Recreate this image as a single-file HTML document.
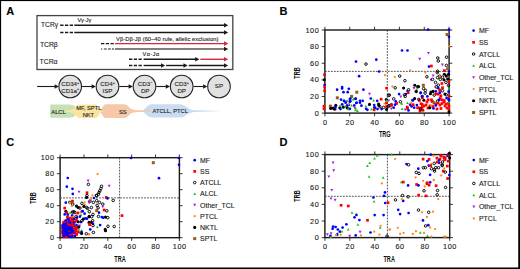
<!DOCTYPE html>
<html><head><meta charset="utf-8"><style>
html,body{margin:0;padding:0;background:#fff;}
body{width:520px;height:269px;overflow:hidden;}
svg{display:block;font-family:"Liberation Sans", sans-serif;}
text{stroke:#222;stroke-width:0.12px;}
.h{stroke-width:0.25px;}
.n{stroke-width:0;}
</style></head><body>
<svg width="520" height="269" viewBox="0 0 520 269">
<rect x="0" y="0" width="520" height="269" fill="#fff"/>
<text x="6.3" y="15" font-size="11" font-weight="bold" fill="#000">A</text>
<text x="279.6" y="15" font-size="11" font-weight="bold" fill="#000">B</text>
<text x="6.3" y="146.3" font-size="11" font-weight="bold" fill="#000">C</text>
<text x="279.6" y="146.3" font-size="11" font-weight="bold" fill="#000">D</text>
<rect x="37" y="15.6" width="195.8" height="53.9" fill="none" stroke="#444" stroke-width="1.3"/>
<line x1="60.2" y1="25.3" x2="73" y2="25.3" stroke="#1a1a1a" stroke-width="1.4" stroke-dasharray="3.3 1.45"/>
<line x1="74.3" y1="25.3" x2="225" y2="25.3" stroke="#1a1a1a" stroke-width="1.4"/>
<path d="M228.2 25.3 L224.0 23.0 L224.0 27.6 Z" fill="#1a1a1a"/>
<line x1="60.2" y1="32.5" x2="73" y2="32.5" stroke="#1a1a1a" stroke-width="1.4" stroke-dasharray="3.3 1.45"/>
<line x1="74.3" y1="32.5" x2="225" y2="32.5" stroke="#1a1a1a" stroke-width="1.4"/>
<path d="M228.2 32.5 L224.0 30.2 L224.0 34.8 Z" fill="#1a1a1a"/>
<line x1="101" y1="43.6" x2="114" y2="43.6" stroke="#1a1a1a" stroke-width="1.4" stroke-dasharray="3.3 1.45"/>
<line x1="115.1" y1="43.6" x2="225" y2="43.6" stroke="#d7263d" stroke-width="1.4"/>
<path d="M228.2 43.6 L224.0 41.300000000000004 L224.0 45.9 Z" fill="#d7263d"/>
<line x1="100.9" y1="49.0" x2="102.2" y2="49.0" stroke="#555" stroke-width="1.3"/>
<line x1="103.8" y1="49.0" x2="106.7" y2="49.0" stroke="#555" stroke-width="1.3"/>
<line x1="108" y1="49.0" x2="110.9" y2="49.0" stroke="#555" stroke-width="1.3"/>
<line x1="112" y1="49.0" x2="113.8" y2="49.0" stroke="#555" stroke-width="1.3"/>
<line x1="114.9" y1="49.0" x2="225" y2="49.0" stroke="#555" stroke-width="1.3"/>
<path d="M228.2 49.0 L224.0 46.7 L224.0 51.3 Z" fill="#1a1a1a"/>
<line x1="129" y1="59.3" x2="142" y2="59.3" stroke="#1a1a1a" stroke-width="1.4" stroke-dasharray="3.3 1.45"/>
<line x1="143.6" y1="59.3" x2="196" y2="59.3" stroke="#1a1a1a" stroke-width="1.4"/>
<path d="M199.4 59.3 L195.20000000000002 57.0 L195.20000000000002 61.599999999999994 Z" fill="#1a1a1a"/>
<line x1="200.3" y1="59.3" x2="225" y2="59.3" stroke="#d7263d" stroke-width="1.4"/>
<path d="M228.2 59.3 L224.0 57.0 L224.0 61.599999999999994 Z" fill="#d7263d"/>
<line x1="129" y1="65.5" x2="142" y2="65.5" stroke="#1a1a1a" stroke-width="1.4" stroke-dasharray="3.3 1.45"/>
<line x1="143.6" y1="65.5" x2="162" y2="65.5" stroke="#1a1a1a" stroke-width="1.4"/>
<path d="M165.2 65.5 L161.0 63.2 L161.0 67.8 Z" fill="#1a1a1a"/>
<line x1="166.1" y1="65.5" x2="184" y2="65.5" stroke="#1a1a1a" stroke-width="1.4"/>
<path d="M187.7 65.5 L183.5 63.2 L183.5 67.8 Z" fill="#1a1a1a"/>
<line x1="188.8" y1="65.5" x2="225" y2="65.5" stroke="#1a1a1a" stroke-width="1.4"/>
<path d="M228.2 65.5 L224.0 63.2 L224.0 67.8 Z" fill="#1a1a1a"/>
<text x="41.1" y="27.3" font-size="6.6" fill="#222">TCRγ</text>
<text x="39.9" y="46.9" font-size="6.8" fill="#222">TCRβ</text>
<text x="39.6" y="63.5" font-size="6.8" fill="#222">TCRα</text>
<text x="77.4" y="21.8" font-size="5.6" fill="#222">Vγ-Jγ</text>
<text x="116.0" y="40.5" font-size="5.75" fill="#222" letter-spacing="0.05">Vβ-Dβ-Jβ (60–40 rule, allelic exclusion)</text>
<text x="142.5" y="56.0" font-size="5.6" fill="#222" letter-spacing="0.5">Vα-Jα</text>
<line x1="37.1" y1="86.5" x2="55" y2="86.5" stroke="#1a1a1a" stroke-width="1.1"/>
<path d="M58.8 86.5 L54.599999999999994 84.2 L54.599999999999994 88.8 Z" fill="#1a1a1a"/>
<line x1="82.0" y1="86.5" x2="92.3" y2="86.5" stroke="#1a1a1a" stroke-width="1.1"/>
<path d="M95.8 86.5 L91.6 84.2 L91.6 88.8 Z" fill="#1a1a1a"/>
<line x1="119.3" y1="86.5" x2="129.29999999999998" y2="86.5" stroke="#1a1a1a" stroke-width="1.1"/>
<path d="M132.79999999999998 86.5 L128.6 84.2 L128.6 88.8 Z" fill="#1a1a1a"/>
<line x1="156.3" y1="86.5" x2="166.49999999999997" y2="86.5" stroke="#1a1a1a" stroke-width="1.1"/>
<path d="M169.99999999999997 86.5 L165.79999999999998 84.2 L165.79999999999998 88.8 Z" fill="#1a1a1a"/>
<line x1="193.5" y1="86.5" x2="203.79999999999998" y2="86.5" stroke="#1a1a1a" stroke-width="1.1"/>
<path d="M207.29999999999998 86.5 L203.1 84.2 L203.1 88.8 Z" fill="#1a1a1a"/>
<circle cx="70.2" cy="86.5" r="11.3" fill="#e1e1e1" stroke="#222" stroke-width="1.1"/>
<circle cx="107.5" cy="86.5" r="11.3" fill="#e1e1e1" stroke="#222" stroke-width="1.1"/>
<circle cx="144.5" cy="86.5" r="11.3" fill="#e1e1e1" stroke="#222" stroke-width="1.1"/>
<circle cx="181.7" cy="86.5" r="11.3" fill="#e1e1e1" stroke="#222" stroke-width="1.1"/>
<circle cx="219.0" cy="86.5" r="11.3" fill="#e1e1e1" stroke="#222" stroke-width="1.1"/>
<text x="70.2" y="85.8" font-size="6.2" fill="#2a2a2a" text-anchor="middle">CD34<tspan font-size="3.6" dy="-2.2">+</tspan></text>
<text x="70.2" y="92.6" font-size="6.2" fill="#2a2a2a" text-anchor="middle">CD1a<tspan font-size="3.6" dy="-2.2">+</tspan></text>
<text x="107.5" y="86.0" font-size="6.2" fill="#2a2a2a" text-anchor="middle">CD4<tspan font-size="3.6" dy="-2.2">+</tspan></text>
<text x="107.5" y="92.8" font-size="6.2" fill="#2a2a2a" text-anchor="middle">ISP</text>
<text x="145.0" y="85.8" font-size="6.2" fill="#2a2a2a" text-anchor="middle">CD3<tspan font-size="3.6" dy="-2.2">−</tspan></text>
<text x="145.2" y="92.6" font-size="6.2" fill="#2a2a2a" text-anchor="middle">DP</text>
<text x="181.7" y="85.8" font-size="6.2" fill="#2a2a2a" text-anchor="middle">CD3<tspan font-size="3.6" dy="-2.2">+</tspan></text>
<text x="181.7" y="92.6" font-size="6.2" fill="#2a2a2a" text-anchor="middle">DP</text>
<text x="219.0" y="88.4" font-size="6.2" fill="#2a2a2a" text-anchor="middle">SP</text>
<defs><linearGradient id="bt" x1="0" x2="1" y1="0" y2="0"><stop offset="0" stop-color="#c9dcf1"/><stop offset="0.45" stop-color="#d3e3f4"/><stop offset="1" stop-color="#ffffff"/></linearGradient></defs>
<path d="M193 110.2 L224 110.6 L224 111.6 L193 112 Z" fill="url(#bt)"/>
<path d="M141.5 110.9 C145 110.8 146.5 104.3 152 104.3 L180 104.3 C185 104.3 187.5 109.6 194 110.3 L194 111.9 C187.5 112.6 185 117.6 180 117.6 L152 117.6 C146.5 117.6 145 111.4 141.5 111.3 Z" fill="#c9dcf1"/>
<path d="M50.2 105.2 Q50.2 104.4 51 104.4 L69 104.4 C74.5 104.4 77.3 108 77.3 111.1 C77.3 114.2 74.5 117.8 69 117.8 L51 117.8 Q50.2 117.8 50.2 117 Z" fill="#c6e1b6"/>
<path d="M98 110.9 C101.5 110.8 102.5 106.5 103.6 105.4 C104.4 104.5 105 104.2 107 104.2 L123.5 104.2 C127 104.2 128.5 106.5 130 108.2 C132 110 136 110.2 142 110.3 L151 110.6 L151 111.5 L142 111.9 C136 112 132 112.2 130 114 C128.5 115.8 127 118.1 123.5 118.1 L107 118.1 C105 118.1 104.4 117.8 103.6 116.9 C102.5 115.8 101.5 111.5 98 111.4 Z" fill="#f6c8aa"/>
<path d="M65.5 110.6 C72 110.5 74.5 108.2 76.5 106.2 C77.6 105 78.2 104.4 80 104.4 L95.5 104.4 C97.5 104.4 99 108.5 101.3 110.5 L104 111.1 L101.3 111.7 C99 113.7 97.5 118.1 95.5 118.1 L80 118.1 C78.2 118.1 77.6 117.5 76.5 116.2 C74.5 114.1 72 111.8 65.5 111.7 Z" fill="#fbe4a0"/>
<text x="51.3" y="113.6" font-size="5.75" fill="#1a1a1a" text-anchor="start">ALCL</text>
<text x="88.8" y="109.6" font-size="5.75" fill="#1a1a1a" text-anchor="middle" letter-spacing="0">MF, SPTL</text>
<text x="88.3" y="117.4" font-size="5.75" fill="#1a1a1a" text-anchor="middle" letter-spacing="-0.2">NKT</text>
<text x="118.9" y="113.5" font-size="5.75" fill="#1a1a1a" text-anchor="start">SS</text>
<text x="152.5" y="112.6" font-size="5.75" fill="#1a1a1a" text-anchor="start">ATCLL, PTCL</text>
<rect x="324.9" y="30.0" width="124.20000000000005" height="83.1" fill="none" stroke="#1e1e1e" stroke-width="1.45"/>
<line x1="387.3" y1="30.0" x2="387.3" y2="113.1" stroke="#333" stroke-width="0.85" stroke-dasharray="1.8 1.2"/>
<line x1="324.9" y1="71.4" x2="449.1" y2="71.4" stroke="#333" stroke-width="0.85" stroke-dasharray="1.8 1.2"/>
<line x1="324.9" y1="113.1" x2="324.9" y2="116.3" stroke="#1e1e1e" stroke-width="0.9"/>
<line x1="324.9" y1="30.0" x2="324.9" y2="26.8" stroke="#1e1e1e" stroke-width="0.9"/>
<line x1="321.7" y1="113.1" x2="324.9" y2="113.1" stroke="#1e1e1e" stroke-width="0.9"/>
<line x1="449.1" y1="113.1" x2="452.3" y2="113.1" stroke="#1e1e1e" stroke-width="0.9"/>
<text x="325.2" y="124.80000000000001" font-size="7.3" fill="#222" text-anchor="middle" letter-spacing="0.55">0</text>
<text x="319.29999999999995" y="115.69999999999999" font-size="7.3" fill="#222" text-anchor="end" letter-spacing="0.55">0</text>
<line x1="349.74" y1="113.1" x2="349.74" y2="116.3" stroke="#1e1e1e" stroke-width="0.9"/>
<line x1="349.74" y1="30.0" x2="349.74" y2="26.8" stroke="#1e1e1e" stroke-width="0.9"/>
<line x1="321.7" y1="96.47999999999999" x2="324.9" y2="96.47999999999999" stroke="#1e1e1e" stroke-width="0.9"/>
<line x1="449.1" y1="96.47999999999999" x2="452.3" y2="96.47999999999999" stroke="#1e1e1e" stroke-width="0.9"/>
<text x="350.04" y="124.80000000000001" font-size="7.3" fill="#222" text-anchor="middle" letter-spacing="0.55">20</text>
<text x="319.29999999999995" y="99.07999999999998" font-size="7.3" fill="#222" text-anchor="end" letter-spacing="0.55">20</text>
<line x1="374.58" y1="113.1" x2="374.58" y2="116.3" stroke="#1e1e1e" stroke-width="0.9"/>
<line x1="374.58" y1="30.0" x2="374.58" y2="26.8" stroke="#1e1e1e" stroke-width="0.9"/>
<line x1="321.7" y1="79.86" x2="324.9" y2="79.86" stroke="#1e1e1e" stroke-width="0.9"/>
<line x1="449.1" y1="79.86" x2="452.3" y2="79.86" stroke="#1e1e1e" stroke-width="0.9"/>
<text x="374.88" y="124.80000000000001" font-size="7.3" fill="#222" text-anchor="middle" letter-spacing="0.55">40</text>
<text x="319.29999999999995" y="82.46" font-size="7.3" fill="#222" text-anchor="end" letter-spacing="0.55">40</text>
<line x1="399.42" y1="113.1" x2="399.42" y2="116.3" stroke="#1e1e1e" stroke-width="0.9"/>
<line x1="399.42" y1="30.0" x2="399.42" y2="26.8" stroke="#1e1e1e" stroke-width="0.9"/>
<line x1="321.7" y1="63.239999999999995" x2="324.9" y2="63.239999999999995" stroke="#1e1e1e" stroke-width="0.9"/>
<line x1="449.1" y1="63.239999999999995" x2="452.3" y2="63.239999999999995" stroke="#1e1e1e" stroke-width="0.9"/>
<text x="399.72" y="124.80000000000001" font-size="7.3" fill="#222" text-anchor="middle" letter-spacing="0.55">60</text>
<text x="319.29999999999995" y="65.83999999999999" font-size="7.3" fill="#222" text-anchor="end" letter-spacing="0.55">60</text>
<line x1="424.26" y1="113.1" x2="424.26" y2="116.3" stroke="#1e1e1e" stroke-width="0.9"/>
<line x1="424.26" y1="30.0" x2="424.26" y2="26.8" stroke="#1e1e1e" stroke-width="0.9"/>
<line x1="321.7" y1="46.620000000000005" x2="324.9" y2="46.620000000000005" stroke="#1e1e1e" stroke-width="0.9"/>
<line x1="449.1" y1="46.620000000000005" x2="452.3" y2="46.620000000000005" stroke="#1e1e1e" stroke-width="0.9"/>
<text x="424.56" y="124.80000000000001" font-size="7.3" fill="#222" text-anchor="middle" letter-spacing="0.55">80</text>
<text x="319.29999999999995" y="49.220000000000006" font-size="7.3" fill="#222" text-anchor="end" letter-spacing="0.55">80</text>
<line x1="449.1" y1="113.1" x2="449.1" y2="116.3" stroke="#1e1e1e" stroke-width="0.9"/>
<line x1="449.1" y1="30.0" x2="449.1" y2="26.8" stroke="#1e1e1e" stroke-width="0.9"/>
<line x1="321.7" y1="30.0" x2="324.9" y2="30.0" stroke="#1e1e1e" stroke-width="0.9"/>
<line x1="449.1" y1="30.0" x2="452.3" y2="30.0" stroke="#1e1e1e" stroke-width="0.9"/>
<text x="449.40000000000003" y="124.80000000000001" font-size="7.3" fill="#222" text-anchor="middle" letter-spacing="0.55">100</text>
<text x="319.29999999999995" y="32.6" font-size="7.3" fill="#222" text-anchor="end" letter-spacing="0.55">100</text>
<text transform="translate(384.8 137.2) scale(0.6 1)" font-size="9.3" font-weight="bold" fill="#111" class="n" text-anchor="middle">TRG</text>
<text transform="translate(299.9 72.9) rotate(-90) scale(0.6 1)" font-size="9.3" font-weight="bold" fill="#111" class="n" text-anchor="middle">TRB</text>
<rect x="60.1" y="157.7" width="119.30000000000001" height="80.0" fill="none" stroke="#1e1e1e" stroke-width="1.45"/>
<line x1="119.6" y1="157.7" x2="119.6" y2="237.7" stroke="#333" stroke-width="0.85" stroke-dasharray="1.8 1.2"/>
<line x1="60.1" y1="197.9" x2="179.4" y2="197.9" stroke="#333" stroke-width="0.85" stroke-dasharray="1.8 1.2"/>
<line x1="60.1" y1="237.7" x2="60.1" y2="240.89999999999998" stroke="#1e1e1e" stroke-width="0.9"/>
<line x1="60.1" y1="157.7" x2="60.1" y2="154.5" stroke="#1e1e1e" stroke-width="0.9"/>
<line x1="56.9" y1="237.7" x2="60.1" y2="237.7" stroke="#1e1e1e" stroke-width="0.9"/>
<line x1="179.4" y1="237.7" x2="182.6" y2="237.7" stroke="#1e1e1e" stroke-width="0.9"/>
<text x="60.4" y="249.4" font-size="7.3" fill="#222" text-anchor="middle" letter-spacing="0.55">0</text>
<text x="54.5" y="240.29999999999998" font-size="7.3" fill="#222" text-anchor="end" letter-spacing="0.55">0</text>
<line x1="83.96000000000001" y1="237.7" x2="83.96000000000001" y2="240.89999999999998" stroke="#1e1e1e" stroke-width="0.9"/>
<line x1="83.96000000000001" y1="157.7" x2="83.96000000000001" y2="154.5" stroke="#1e1e1e" stroke-width="0.9"/>
<line x1="56.9" y1="221.7" x2="60.1" y2="221.7" stroke="#1e1e1e" stroke-width="0.9"/>
<line x1="179.4" y1="221.7" x2="182.6" y2="221.7" stroke="#1e1e1e" stroke-width="0.9"/>
<text x="84.26" y="249.4" font-size="7.3" fill="#222" text-anchor="middle" letter-spacing="0.55">20</text>
<text x="54.5" y="224.29999999999998" font-size="7.3" fill="#222" text-anchor="end" letter-spacing="0.55">20</text>
<line x1="107.82000000000001" y1="237.7" x2="107.82000000000001" y2="240.89999999999998" stroke="#1e1e1e" stroke-width="0.9"/>
<line x1="107.82000000000001" y1="157.7" x2="107.82000000000001" y2="154.5" stroke="#1e1e1e" stroke-width="0.9"/>
<line x1="56.9" y1="205.7" x2="60.1" y2="205.7" stroke="#1e1e1e" stroke-width="0.9"/>
<line x1="179.4" y1="205.7" x2="182.6" y2="205.7" stroke="#1e1e1e" stroke-width="0.9"/>
<text x="108.12" y="249.4" font-size="7.3" fill="#222" text-anchor="middle" letter-spacing="0.55">40</text>
<text x="54.5" y="208.29999999999998" font-size="7.3" fill="#222" text-anchor="end" letter-spacing="0.55">40</text>
<line x1="131.68" y1="237.7" x2="131.68" y2="240.89999999999998" stroke="#1e1e1e" stroke-width="0.9"/>
<line x1="131.68" y1="157.7" x2="131.68" y2="154.5" stroke="#1e1e1e" stroke-width="0.9"/>
<line x1="56.9" y1="189.7" x2="60.1" y2="189.7" stroke="#1e1e1e" stroke-width="0.9"/>
<line x1="179.4" y1="189.7" x2="182.6" y2="189.7" stroke="#1e1e1e" stroke-width="0.9"/>
<text x="131.98000000000002" y="249.4" font-size="7.3" fill="#222" text-anchor="middle" letter-spacing="0.55">60</text>
<text x="54.5" y="192.29999999999998" font-size="7.3" fill="#222" text-anchor="end" letter-spacing="0.55">60</text>
<line x1="155.54000000000002" y1="237.7" x2="155.54000000000002" y2="240.89999999999998" stroke="#1e1e1e" stroke-width="0.9"/>
<line x1="155.54000000000002" y1="157.7" x2="155.54000000000002" y2="154.5" stroke="#1e1e1e" stroke-width="0.9"/>
<line x1="56.9" y1="173.7" x2="60.1" y2="173.7" stroke="#1e1e1e" stroke-width="0.9"/>
<line x1="179.4" y1="173.7" x2="182.6" y2="173.7" stroke="#1e1e1e" stroke-width="0.9"/>
<text x="155.84000000000003" y="249.4" font-size="7.3" fill="#222" text-anchor="middle" letter-spacing="0.55">80</text>
<text x="54.5" y="176.29999999999998" font-size="7.3" fill="#222" text-anchor="end" letter-spacing="0.55">80</text>
<line x1="179.4" y1="237.7" x2="179.4" y2="240.89999999999998" stroke="#1e1e1e" stroke-width="0.9"/>
<line x1="179.4" y1="157.7" x2="179.4" y2="154.5" stroke="#1e1e1e" stroke-width="0.9"/>
<line x1="56.9" y1="157.7" x2="60.1" y2="157.7" stroke="#1e1e1e" stroke-width="0.9"/>
<line x1="179.4" y1="157.7" x2="182.6" y2="157.7" stroke="#1e1e1e" stroke-width="0.9"/>
<text x="179.70000000000002" y="249.4" font-size="7.3" fill="#222" text-anchor="middle" letter-spacing="0.55">100</text>
<text x="54.5" y="160.29999999999998" font-size="7.3" fill="#222" text-anchor="end" letter-spacing="0.55">100</text>
<text transform="translate(120.0 262.0) scale(0.6 1)" font-size="9.3" font-weight="bold" fill="#111" class="n" text-anchor="middle">TRA</text>
<text transform="translate(35.7 197.9) rotate(-90) scale(0.6 1)" font-size="9.3" font-weight="bold" fill="#111" class="n" text-anchor="middle">TRB</text>
<rect x="324.9" y="154.6" width="124.80000000000001" height="83.0" fill="none" stroke="#1e1e1e" stroke-width="1.45"/>
<line x1="387.4" y1="154.6" x2="387.4" y2="237.6" stroke="#333" stroke-width="0.85" stroke-dasharray="1.8 1.2"/>
<line x1="324.9" y1="196.3" x2="449.7" y2="196.3" stroke="#333" stroke-width="0.85" stroke-dasharray="1.8 1.2"/>
<line x1="324.9" y1="237.6" x2="324.9" y2="240.79999999999998" stroke="#1e1e1e" stroke-width="0.9"/>
<line x1="324.9" y1="154.6" x2="324.9" y2="151.4" stroke="#1e1e1e" stroke-width="0.9"/>
<line x1="321.7" y1="237.6" x2="324.9" y2="237.6" stroke="#1e1e1e" stroke-width="0.9"/>
<line x1="449.7" y1="237.6" x2="452.9" y2="237.6" stroke="#1e1e1e" stroke-width="0.9"/>
<text x="325.2" y="249.4" font-size="7.3" fill="#222" text-anchor="middle" letter-spacing="0.55">0</text>
<text x="319.29999999999995" y="240.2" font-size="7.3" fill="#222" text-anchor="end" letter-spacing="0.55">0</text>
<line x1="349.85999999999996" y1="237.6" x2="349.85999999999996" y2="240.79999999999998" stroke="#1e1e1e" stroke-width="0.9"/>
<line x1="349.85999999999996" y1="154.6" x2="349.85999999999996" y2="151.4" stroke="#1e1e1e" stroke-width="0.9"/>
<line x1="321.7" y1="221.0" x2="324.9" y2="221.0" stroke="#1e1e1e" stroke-width="0.9"/>
<line x1="449.7" y1="221.0" x2="452.9" y2="221.0" stroke="#1e1e1e" stroke-width="0.9"/>
<text x="350.15999999999997" y="249.4" font-size="7.3" fill="#222" text-anchor="middle" letter-spacing="0.55">20</text>
<text x="319.29999999999995" y="223.6" font-size="7.3" fill="#222" text-anchor="end" letter-spacing="0.55">20</text>
<line x1="374.82" y1="237.6" x2="374.82" y2="240.79999999999998" stroke="#1e1e1e" stroke-width="0.9"/>
<line x1="374.82" y1="154.6" x2="374.82" y2="151.4" stroke="#1e1e1e" stroke-width="0.9"/>
<line x1="321.7" y1="204.39999999999998" x2="324.9" y2="204.39999999999998" stroke="#1e1e1e" stroke-width="0.9"/>
<line x1="449.7" y1="204.39999999999998" x2="452.9" y2="204.39999999999998" stroke="#1e1e1e" stroke-width="0.9"/>
<text x="375.12" y="249.4" font-size="7.3" fill="#222" text-anchor="middle" letter-spacing="0.55">40</text>
<text x="319.29999999999995" y="206.99999999999997" font-size="7.3" fill="#222" text-anchor="end" letter-spacing="0.55">40</text>
<line x1="399.78" y1="237.6" x2="399.78" y2="240.79999999999998" stroke="#1e1e1e" stroke-width="0.9"/>
<line x1="399.78" y1="154.6" x2="399.78" y2="151.4" stroke="#1e1e1e" stroke-width="0.9"/>
<line x1="321.7" y1="187.8" x2="324.9" y2="187.8" stroke="#1e1e1e" stroke-width="0.9"/>
<line x1="449.7" y1="187.8" x2="452.9" y2="187.8" stroke="#1e1e1e" stroke-width="0.9"/>
<text x="400.08" y="249.4" font-size="7.3" fill="#222" text-anchor="middle" letter-spacing="0.55">60</text>
<text x="319.29999999999995" y="190.4" font-size="7.3" fill="#222" text-anchor="end" letter-spacing="0.55">60</text>
<line x1="424.74" y1="237.6" x2="424.74" y2="240.79999999999998" stroke="#1e1e1e" stroke-width="0.9"/>
<line x1="424.74" y1="154.6" x2="424.74" y2="151.4" stroke="#1e1e1e" stroke-width="0.9"/>
<line x1="321.7" y1="171.2" x2="324.9" y2="171.2" stroke="#1e1e1e" stroke-width="0.9"/>
<line x1="449.7" y1="171.2" x2="452.9" y2="171.2" stroke="#1e1e1e" stroke-width="0.9"/>
<text x="425.04" y="249.4" font-size="7.3" fill="#222" text-anchor="middle" letter-spacing="0.55">80</text>
<text x="319.29999999999995" y="173.79999999999998" font-size="7.3" fill="#222" text-anchor="end" letter-spacing="0.55">80</text>
<line x1="449.7" y1="237.6" x2="449.7" y2="240.79999999999998" stroke="#1e1e1e" stroke-width="0.9"/>
<line x1="449.7" y1="154.6" x2="449.7" y2="151.4" stroke="#1e1e1e" stroke-width="0.9"/>
<line x1="321.7" y1="154.6" x2="324.9" y2="154.6" stroke="#1e1e1e" stroke-width="0.9"/>
<line x1="449.7" y1="154.6" x2="452.9" y2="154.6" stroke="#1e1e1e" stroke-width="0.9"/>
<text x="450.0" y="249.4" font-size="7.3" fill="#222" text-anchor="middle" letter-spacing="0.55">100</text>
<text x="319.29999999999995" y="157.2" font-size="7.3" fill="#222" text-anchor="end" letter-spacing="0.55">100</text>
<text transform="translate(389.2 262.0) scale(0.6 1)" font-size="9.3" font-weight="bold" fill="#111" class="n" text-anchor="middle">TRA</text>
<text transform="translate(299.9 196.0) rotate(-90) scale(0.6 1)" font-size="9.3" font-weight="bold" fill="#111" class="n" text-anchor="middle">TRB</text>
<circle cx="473.6" cy="30.6" r="1.35" fill="#0000ff"/>
<text x="478.9" y="33.1" font-size="7" fill="#222">MF</text>
<rect x="472.25" y="40.95" width="2.70" height="2.70" fill="#ff0000"/>
<text x="478.9" y="44.8" font-size="7" fill="#222">SS</text>
<circle cx="473.6" cy="54.0" r="1.28" fill="none" stroke="#000" stroke-width="0.95"/>
<text x="478.9" y="56.5" font-size="7" fill="#222">ATCLL</text>
<path d="M473.6 64.30 L475.00 66.82 L472.20 66.82 Z" fill="#19c019"/>
<text x="478.9" y="68.19999999999999" font-size="7" fill="#222">ALCL</text>
<path d="M473.6 78.90 L475.10 76.20 L472.10 76.20 Z" fill="#a81ee8"/>
<text x="478.9" y="79.9" font-size="7" fill="#222">Other_TCL</text>
<circle cx="473.6" cy="89.1" r="1.15" fill="#ff8a1e"/>
<text x="478.9" y="91.6" font-size="7" fill="#222">PTCL</text>
<circle cx="473.6" cy="100.79999999999998" r="1.55" fill="#000"/>
<text x="478.9" y="103.29999999999998" font-size="7" fill="#222">NKTL</text>
<rect x="472.10" y="111.00" width="3.00" height="3.00" fill="#9a5b15"/>
<text x="478.9" y="115.0" font-size="7" fill="#222">SPTL</text>
<circle cx="194.7" cy="160.2" r="1.35" fill="#0000ff"/>
<text x="200.0" y="162.7" font-size="7" fill="#222">MF</text>
<rect x="193.35" y="170.05" width="2.70" height="2.70" fill="#ff0000"/>
<text x="200.0" y="173.89999999999998" font-size="7" fill="#222">SS</text>
<circle cx="194.7" cy="182.6" r="1.28" fill="none" stroke="#000" stroke-width="0.95"/>
<text x="200.0" y="185.1" font-size="7" fill="#222">ATCLL</text>
<path d="M194.7 192.40 L196.10 194.92 L193.30 194.92 Z" fill="#19c019"/>
<text x="200.0" y="196.29999999999998" font-size="7" fill="#222">ALCL</text>
<path d="M194.7 206.50 L196.20 203.80 L193.20 203.80 Z" fill="#a81ee8"/>
<text x="200.0" y="207.5" font-size="7" fill="#222">Other_TCL</text>
<circle cx="194.7" cy="216.2" r="1.15" fill="#ff8a1e"/>
<text x="200.0" y="218.7" font-size="7" fill="#222">PTCL</text>
<circle cx="194.7" cy="227.39999999999998" r="1.55" fill="#000"/>
<text x="200.0" y="229.89999999999998" font-size="7" fill="#222">NKTL</text>
<rect x="193.20" y="237.10" width="3.00" height="3.00" fill="#9a5b15"/>
<text x="200.0" y="241.09999999999997" font-size="7" fill="#222">SPTL</text>
<circle cx="473.8" cy="160.1" r="1.35" fill="#0000ff"/>
<text x="478.9" y="162.6" font-size="7" fill="#222">MF</text>
<rect x="472.45" y="170.43" width="2.70" height="2.70" fill="#ff0000"/>
<text x="478.9" y="174.28" font-size="7" fill="#222">SS</text>
<circle cx="473.8" cy="183.45999999999998" r="1.28" fill="none" stroke="#000" stroke-width="0.95"/>
<text x="478.9" y="185.95999999999998" font-size="7" fill="#222">ATCLL</text>
<path d="M473.8 193.74 L475.20 196.26 L472.40 196.26 Z" fill="#19c019"/>
<text x="478.9" y="197.64" font-size="7" fill="#222">ALCL</text>
<path d="M473.8 208.32 L475.30 205.62 L472.30 205.62 Z" fill="#a81ee8"/>
<text x="478.9" y="209.32" font-size="7" fill="#222">Other_TCL</text>
<circle cx="473.8" cy="218.5" r="1.15" fill="#ff8a1e"/>
<text x="478.9" y="221.0" font-size="7" fill="#222">PTCL</text>
<circle cx="428.1" cy="29.6" r="1.35" fill="#0000ff"/>
<circle cx="449" cy="29.6" r="1.35" fill="#0000ff"/>
<rect x="445.60" y="33.00" width="3.00" height="3.00" fill="#9a5b15"/>
<circle cx="449" cy="36.8" r="1.35" fill="#0000ff"/>
<circle cx="449" cy="46.3" r="1.15" fill="#ff8a1e"/>
<circle cx="402" cy="50.5" r="1.35" fill="#0000ff"/>
<circle cx="407.5" cy="50.5" r="1.35" fill="#0000ff"/>
<path d="M428.4 54.60 L429.90 51.90 L426.90 51.90 Z" fill="#a81ee8"/>
<circle cx="356" cy="61.6" r="1.35" fill="#0000ff"/>
<circle cx="366" cy="64.1" r="1.28" fill="none" stroke="#000" stroke-width="0.95"/>
<circle cx="376.3" cy="59.7" r="1.35" fill="#0000ff"/>
<circle cx="379.1" cy="71.5" r="1.35" fill="#0000ff"/>
<circle cx="359.1" cy="76.2" r="1.35" fill="#0000ff"/>
<rect x="323.15" y="73.35" width="2.70" height="2.70" fill="#ff0000"/>
<circle cx="324.3" cy="79.8" r="1.55" fill="#000"/>
<circle cx="385" cy="75.2" r="1.15" fill="#ff8a1e"/>
<path d="M419.7 60.40 L421.20 57.70 L418.20 57.70 Z" fill="#a81ee8"/>
<circle cx="437.8" cy="58.0" r="1.28" fill="none" stroke="#000" stroke-width="0.95"/>
<circle cx="438.3" cy="61.0" r="1.28" fill="none" stroke="#000" stroke-width="0.95"/>
<circle cx="446.6" cy="57.2" r="1.28" fill="none" stroke="#000" stroke-width="0.95"/>
<circle cx="429" cy="66.6" r="1.35" fill="#0000ff"/>
<rect x="430.05" y="64.65" width="2.70" height="2.70" fill="#ff0000"/>
<path d="M442.4 66.30 L443.90 63.60 L440.90 63.60 Z" fill="#a81ee8"/>
<circle cx="446.4" cy="65.4" r="1.28" fill="none" stroke="#000" stroke-width="0.95"/>
<rect x="446.20" y="67.30" width="3.00" height="3.00" fill="#9a5b15"/>
<circle cx="437.5" cy="71.2" r="1.28" fill="none" stroke="#000" stroke-width="0.95"/>
<circle cx="425.4" cy="72.5" r="1.15" fill="#ff8a1e"/>
<rect x="443.05" y="69.25" width="2.70" height="2.70" fill="#ff0000"/>
<circle cx="448.9" cy="71.4" r="1.35" fill="#0000ff"/>
<circle cx="410.3" cy="70.3" r="1.15" fill="#ff8a1e"/>
<circle cx="394.8" cy="77.1" r="1.15" fill="#ff8a1e"/>
<circle cx="399.7" cy="76.1" r="1.28" fill="none" stroke="#000" stroke-width="0.95"/>
<circle cx="404.9" cy="80.7" r="1.28" fill="none" stroke="#000" stroke-width="0.95"/>
<rect x="385.25" y="86.85" width="2.70" height="2.70" fill="#ff0000"/>
<circle cx="392.4" cy="86.5" r="1.15" fill="#ff8a1e"/>
<circle cx="395.2" cy="87.8" r="1.28" fill="none" stroke="#000" stroke-width="0.95"/>
<circle cx="403.6" cy="88" r="1.55" fill="#000"/>
<circle cx="408.6" cy="89.8" r="1.28" fill="none" stroke="#000" stroke-width="0.95"/>
<circle cx="407.6" cy="91.1" r="1.35" fill="#0000ff"/>
<rect x="406.85" y="91.35" width="2.70" height="2.70" fill="#ff0000"/>
<circle cx="414.8" cy="85.2" r="1.55" fill="#000"/>
<circle cx="417.7" cy="86.8" r="1.28" fill="none" stroke="#000" stroke-width="0.95"/>
<path d="M414.0 89.70 L415.50 87.00 L412.50 87.00 Z" fill="#a81ee8"/>
<path d="M416.7 88.10 L418.10 90.62 L415.30 90.62 Z" fill="#19c019"/>
<circle cx="415.2" cy="91.1" r="1.15" fill="#ff8a1e"/>
<circle cx="416.3" cy="91.6" r="1.55" fill="#000"/>
<circle cx="426.9" cy="76.8" r="1.28" fill="none" stroke="#000" stroke-width="0.95"/>
<path d="M433.2 77.20 L434.70 74.50 L431.70 74.50 Z" fill="#a81ee8"/>
<path d="M431 81.50 L432.50 78.80 L429.50 78.80 Z" fill="#a81ee8"/>
<circle cx="432.5" cy="79.4" r="1.28" fill="none" stroke="#000" stroke-width="0.95"/>
<circle cx="435.5" cy="82.4" r="1.28" fill="none" stroke="#000" stroke-width="0.95"/>
<circle cx="437.5" cy="77.6" r="1.28" fill="none" stroke="#000" stroke-width="0.95"/>
<circle cx="439.6" cy="76.1" r="1.28" fill="none" stroke="#000" stroke-width="0.95"/>
<circle cx="439.7" cy="76.5" r="1.15" fill="#ff8a1e"/>
<circle cx="440.3" cy="79.4" r="1.28" fill="none" stroke="#000" stroke-width="0.95"/>
<circle cx="442.5" cy="77.2" r="1.28" fill="none" stroke="#000" stroke-width="0.95"/>
<circle cx="444.4" cy="74.2" r="1.55" fill="#000"/>
<circle cx="446.3" cy="76.1" r="1.55" fill="#000"/>
<circle cx="444" cy="79.8" r="1.55" fill="#000"/>
<circle cx="447.7" cy="79.1" r="1.55" fill="#000"/>
<circle cx="448.5" cy="74.2" r="1.55" fill="#000"/>
<circle cx="445.9" cy="82.4" r="1.28" fill="none" stroke="#000" stroke-width="0.95"/>
<rect x="447.55" y="80.35" width="2.70" height="2.70" fill="#ff0000"/>
<rect x="440.55" y="82.15" width="2.70" height="2.70" fill="#ff0000"/>
<circle cx="448.5" cy="85.4" r="1.28" fill="none" stroke="#000" stroke-width="0.95"/>
<path d="M449.1 86.90 L450.50 89.42 L447.70 89.42 Z" fill="#19c019"/>
<rect x="421.80" y="83.80" width="3.00" height="3.00" fill="#9a5b15"/>
<circle cx="423.6" cy="88.6" r="1.28" fill="none" stroke="#000" stroke-width="0.95"/>
<circle cx="425.4" cy="90.4" r="1.28" fill="none" stroke="#000" stroke-width="0.95"/>
<circle cx="425.1" cy="93.1" r="1.28" fill="none" stroke="#000" stroke-width="0.95"/>
<circle cx="436.2" cy="86.9" r="1.28" fill="none" stroke="#000" stroke-width="0.95"/>
<circle cx="438.3" cy="85.2" r="1.28" fill="none" stroke="#000" stroke-width="0.95"/>
<circle cx="438.3" cy="88.2" r="1.35" fill="#0000ff"/>
<rect x="441.15" y="86.35" width="2.70" height="2.70" fill="#ff0000"/>
<rect x="438.25" y="88.65" width="2.70" height="2.70" fill="#ff0000"/>
<circle cx="442.5" cy="90.7" r="1.28" fill="none" stroke="#000" stroke-width="0.95"/>
<circle cx="431.0" cy="92.0" r="1.55" fill="#000"/>
<circle cx="433.1" cy="91.4" r="1.55" fill="#000"/>
<circle cx="430.4" cy="93.8" r="1.55" fill="#000"/>
<circle cx="435.8" cy="91.3" r="1.35" fill="#0000ff"/>
<circle cx="418.5" cy="86.6" r="1.55" fill="#000"/>
<circle cx="437.3" cy="72.6" r="1.28" fill="none" stroke="#000" stroke-width="0.95"/>
<circle cx="420.7" cy="92.7" r="1.35" fill="#0000ff"/>
<circle cx="422.4" cy="96.1" r="1.35" fill="#0000ff"/>
<rect x="421.05" y="96.45" width="2.70" height="2.70" fill="#ff0000"/>
<circle cx="427.4" cy="96.4" r="1.35" fill="#0000ff"/>
<circle cx="434.2" cy="95.1" r="1.28" fill="none" stroke="#000" stroke-width="0.95"/>
<rect x="434.85" y="92.45" width="2.70" height="2.70" fill="#ff0000"/>
<rect x="436.85" y="92.75" width="2.70" height="2.70" fill="#ff0000"/>
<circle cx="439.9" cy="92.7" r="1.35" fill="#0000ff"/>
<rect x="439.55" y="94.45" width="2.70" height="2.70" fill="#ff0000"/>
<rect x="438.85" y="96.75" width="2.70" height="2.70" fill="#ff0000"/>
<circle cx="439.2" cy="99.8" r="1.35" fill="#0000ff"/>
<rect x="440.55" y="98.45" width="2.70" height="2.70" fill="#ff0000"/>
<rect x="442.85" y="99.15" width="2.70" height="2.70" fill="#ff0000"/>
<circle cx="444.9" cy="94.1" r="1.55" fill="#000"/>
<circle cx="446.3" cy="94.8" r="1.28" fill="none" stroke="#000" stroke-width="0.95"/>
<circle cx="448.6" cy="91.7" r="1.35" fill="#0000ff"/>
<rect x="447.65" y="94.75" width="2.70" height="2.70" fill="#ff0000"/>
<circle cx="446.6" cy="98.1" r="1.35" fill="#0000ff"/>
<circle cx="448.6" cy="99.1" r="1.35" fill="#0000ff"/>
<circle cx="449" cy="100.8" r="1.35" fill="#0000ff"/>
<rect x="417.95" y="99.05" width="2.70" height="2.70" fill="#ff0000"/>
<circle cx="423.9" cy="100.3" r="1.55" fill="#000"/>
<rect x="426.75" y="98.45" width="2.70" height="2.70" fill="#ff0000"/>
<rect x="430.15" y="98.45" width="2.70" height="2.70" fill="#ff0000"/>
<path d="M433.6 99.80 L435.00 102.32 L432.20 102.32 Z" fill="#19c019"/>
<circle cx="437.5" cy="101.2" r="1.28" fill="none" stroke="#000" stroke-width="0.95"/>
<circle cx="389.3" cy="95.1" r="1.28" fill="none" stroke="#000" stroke-width="0.95"/>
<circle cx="388.6" cy="95.4" r="1.28" fill="none" stroke="#000" stroke-width="0.95"/>
<circle cx="399.1" cy="94.1" r="1.35" fill="#0000ff"/>
<path d="M400.8 98.30 L402.30 95.60 L399.30 95.60 Z" fill="#a81ee8"/>
<circle cx="405.8" cy="94.1" r="1.35" fill="#0000ff"/>
<circle cx="404.5" cy="94.8" r="1.28" fill="none" stroke="#000" stroke-width="0.95"/>
<circle cx="405.2" cy="96.4" r="1.28" fill="none" stroke="#000" stroke-width="0.95"/>
<circle cx="393.7" cy="98.8" r="1.28" fill="none" stroke="#000" stroke-width="0.95"/>
<path d="M388.8 102.10 L390.30 99.40 L387.30 99.40 Z" fill="#a81ee8"/>
<circle cx="395.7" cy="101.4" r="1.35" fill="#0000ff"/>
<circle cx="420.6" cy="93.1" r="1.35" fill="#0000ff"/>
<circle cx="422.0" cy="96.4" r="1.35" fill="#0000ff"/>
<circle cx="414.6" cy="98.5" r="1.55" fill="#000"/>
<circle cx="412.6" cy="100.2" r="1.35" fill="#0000ff"/>
<circle cx="418.8" cy="99.4" r="1.28" fill="none" stroke="#000" stroke-width="0.95"/>
<circle cx="400.4" cy="101.8" r="1.28" fill="none" stroke="#000" stroke-width="0.95"/>
<circle cx="324.6" cy="85" r="1.35" fill="#0000ff"/>
<rect x="323.25" y="85.75" width="2.70" height="2.70" fill="#ff0000"/>
<rect x="323.25" y="89.35" width="2.70" height="2.70" fill="#ff0000"/>
<circle cx="337.1" cy="89.7" r="1.35" fill="#0000ff"/>
<circle cx="342.1" cy="87.1" r="1.35" fill="#0000ff"/>
<circle cx="342.1" cy="88.4" r="1.35" fill="#0000ff"/>
<circle cx="348.8" cy="88.8" r="1.35" fill="#0000ff"/>
<circle cx="343.5" cy="92.2" r="1.35" fill="#0000ff"/>
<circle cx="347.7" cy="92.2" r="1.35" fill="#0000ff"/>
<rect x="335.80" y="96.30" width="3.00" height="3.00" fill="#9a5b15"/>
<rect x="350.10" y="94.90" width="3.00" height="3.00" fill="#9a5b15"/>
<rect x="355.30" y="90.70" width="3.00" height="3.00" fill="#9a5b15"/>
<circle cx="341" cy="99.6" r="1.35" fill="#0000ff"/>
<circle cx="343.9" cy="100.8" r="1.35" fill="#0000ff"/>
<path d="M347 99.40 L348.40 101.92 L345.60 101.92 Z" fill="#19c019"/>
<circle cx="350.3" cy="98.5" r="1.35" fill="#0000ff"/>
<circle cx="350.3" cy="101.2" r="1.35" fill="#0000ff"/>
<path d="M353.6 97.40 L355.00 99.92 L352.20 99.92 Z" fill="#19c019"/>
<circle cx="355.6" cy="98.8" r="1.35" fill="#0000ff"/>
<rect x="322.65" y="104.85" width="2.70" height="2.70" fill="#ff0000"/>
<rect x="322.65" y="107.45" width="2.70" height="2.70" fill="#ff0000"/>
<rect x="328.90" y="104.60" width="3.00" height="3.00" fill="#9a5b15"/>
<circle cx="330.7" cy="108.4" r="1.55" fill="#000"/>
<circle cx="333.1" cy="108.1" r="1.55" fill="#000"/>
<circle cx="335.8" cy="105.4" r="1.55" fill="#000"/>
<circle cx="335.5" cy="107.1" r="1.35" fill="#0000ff"/>
<path d="M335.8 111.10 L337.30 108.40 L334.30 108.40 Z" fill="#a81ee8"/>
<circle cx="334.4" cy="109.1" r="1.55" fill="#000"/>
<circle cx="339.8" cy="107.7" r="1.55" fill="#000"/>
<circle cx="340.5" cy="109.1" r="1.35" fill="#0000ff"/>
<path d="M340.2 104.30 L341.60 106.82 L338.80 106.82 Z" fill="#19c019"/>
<circle cx="342.2" cy="104.4" r="1.35" fill="#0000ff"/>
<path d="M342.2 106.00 L343.60 108.52 L340.80 108.52 Z" fill="#19c019"/>
<circle cx="344.2" cy="101" r="1.35" fill="#0000ff"/>
<circle cx="343.5" cy="107.1" r="1.55" fill="#000"/>
<path d="M346.9 99.80 L348.30 102.32 L345.50 102.32 Z" fill="#19c019"/>
<circle cx="345.6" cy="102.7" r="1.35" fill="#0000ff"/>
<circle cx="347.2" cy="105.4" r="1.35" fill="#0000ff"/>
<path d="M345.2 105.00 L346.60 107.52 L343.80 107.52 Z" fill="#19c019"/>
<circle cx="347.2" cy="107.7" r="1.55" fill="#000"/>
<path d="M347.9 107.70 L349.30 110.22 L346.50 110.22 Z" fill="#19c019"/>
<circle cx="349.9" cy="99.7" r="1.35" fill="#0000ff"/>
<circle cx="349.9" cy="101.7" r="1.35" fill="#0000ff"/>
<circle cx="348.9" cy="104.7" r="1.35" fill="#0000ff"/>
<circle cx="348.6" cy="104" r="1.15" fill="#ff8a1e"/>
<circle cx="349.9" cy="108.8" r="1.35" fill="#0000ff"/>
<path d="M351.6 104.00 L353.00 106.52 L350.20 106.52 Z" fill="#19c019"/>
<circle cx="354.3" cy="105.4" r="1.35" fill="#0000ff"/>
<path d="M354.6 109.20 L356.10 106.50 L353.10 106.50 Z" fill="#a81ee8"/>
<path d="M355.6 108.70 L357.00 111.22 L354.20 111.22 Z" fill="#19c019"/>
<path d="M353.3 97.90 L354.70 100.42 L351.90 100.42 Z" fill="#19c019"/>
<circle cx="356.3" cy="103" r="1.35" fill="#0000ff"/>
<circle cx="363.4" cy="89.7" r="1.35" fill="#0000ff"/>
<path d="M369.5 95.50 L371.00 92.80 L368.00 92.80 Z" fill="#a81ee8"/>
<circle cx="355.7" cy="98.5" r="1.35" fill="#0000ff"/>
<circle cx="360" cy="100.8" r="1.35" fill="#0000ff"/>
<circle cx="362.7" cy="100.8" r="1.35" fill="#0000ff"/>
<circle cx="370.8" cy="98.5" r="1.35" fill="#0000ff"/>
<path d="M373.5 99.10 L374.90 101.62 L372.10 101.62 Z" fill="#19c019"/>
<circle cx="377.2" cy="100.8" r="1.35" fill="#0000ff"/>
<rect x="379.75" y="97.85" width="2.70" height="2.70" fill="#ff0000"/>
<circle cx="386.3" cy="99.6" r="1.55" fill="#000"/>
<path d="M386.6 99.00 L388.00 101.52 L385.20 101.52 Z" fill="#19c019"/>
<circle cx="356.7" cy="102.7" r="1.35" fill="#0000ff"/>
<circle cx="360" cy="102.7" r="1.35" fill="#0000ff"/>
<circle cx="361.4" cy="105.7" r="1.35" fill="#0000ff"/>
<path d="M355.7 107.00 L357.10 109.52 L354.30 109.52 Z" fill="#19c019"/>
<path d="M357.4 109.40 L358.80 111.92 L356.00 111.92 Z" fill="#19c019"/>
<path d="M365.8 104.70 L367.20 107.22 L364.40 107.22 Z" fill="#19c019"/>
<circle cx="366.1" cy="108.8" r="1.35" fill="#0000ff"/>
<circle cx="367.4" cy="109.8" r="1.35" fill="#0000ff"/>
<circle cx="369.5" cy="104.4" r="1.55" fill="#000"/>
<path d="M371.5 107.70 L372.90 110.22 L370.10 110.22 Z" fill="#19c019"/>
<circle cx="374.2" cy="105.1" r="1.35" fill="#0000ff"/>
<circle cx="374.2" cy="107.5" r="1.35" fill="#0000ff"/>
<rect x="372.85" y="108.45" width="2.70" height="2.70" fill="#ff0000"/>
<circle cx="375.2" cy="107.7" r="1.35" fill="#0000ff"/>
<circle cx="378.6" cy="104" r="1.55" fill="#000"/>
<circle cx="378.9" cy="105.4" r="1.55" fill="#000"/>
<circle cx="379.9" cy="106.7" r="1.28" fill="none" stroke="#000" stroke-width="0.95"/>
<circle cx="377.5" cy="109.1" r="1.35" fill="#0000ff"/>
<circle cx="381.6" cy="109.1" r="1.35" fill="#0000ff"/>
<circle cx="383.6" cy="107.4" r="1.28" fill="none" stroke="#000" stroke-width="0.95"/>
<circle cx="384.6" cy="103.7" r="1.15" fill="#ff8a1e"/>
<rect x="385.25" y="101.65" width="2.70" height="2.70" fill="#ff0000"/>
<rect x="385.25" y="105.15" width="2.70" height="2.70" fill="#ff0000"/>
<circle cx="386.6" cy="109.4" r="1.55" fill="#000"/>
<circle cx="389" cy="105.7" r="1.28" fill="none" stroke="#000" stroke-width="0.95"/>
<rect x="395.35" y="102.05" width="2.70" height="2.70" fill="#ff0000"/>
<circle cx="395.1" cy="104.7" r="1.35" fill="#0000ff"/>
<circle cx="391.4" cy="104.7" r="1.28" fill="none" stroke="#000" stroke-width="0.95"/>
<rect x="390.05" y="103.95" width="2.70" height="2.70" fill="#ff0000"/>
<circle cx="388.3" cy="106.4" r="1.28" fill="none" stroke="#000" stroke-width="0.95"/>
<circle cx="393.7" cy="107.7" r="1.35" fill="#0000ff"/>
<path d="M391.4 110.30 L392.90 107.60 L389.90 107.60 Z" fill="#a81ee8"/>
<path d="M401.8 102.30 L403.20 104.82 L400.40 104.82 Z" fill="#19c019"/>
<path d="M407.5 101.60 L408.90 104.12 L406.10 104.12 Z" fill="#19c019"/>
<path d="M402.1 107.40 L403.50 109.92 L400.70 109.92 Z" fill="#19c019"/>
<path d="M405.2 111.30 L406.70 108.60 L403.70 108.60 Z" fill="#a81ee8"/>
<rect x="405.85" y="105.75" width="2.70" height="2.70" fill="#ff0000"/>
<rect x="406.15" y="107.05" width="2.70" height="2.70" fill="#ff0000"/>
<circle cx="408.5" cy="110.4" r="1.35" fill="#0000ff"/>
<circle cx="410.2" cy="104.7" r="1.35" fill="#0000ff"/>
<circle cx="411.6" cy="106.4" r="1.35" fill="#0000ff"/>
<circle cx="411.2" cy="102.7" r="1.15" fill="#ff8a1e"/>
<circle cx="412.9" cy="100.3" r="1.35" fill="#0000ff"/>
<rect x="411.85" y="103.35" width="2.70" height="2.70" fill="#ff0000"/>
<circle cx="414.2" cy="107.7" r="1.35" fill="#0000ff"/>
<circle cx="416.9" cy="105.1" r="1.35" fill="#0000ff"/>
<rect x="416.25" y="106.35" width="2.70" height="2.70" fill="#ff0000"/>
<rect x="419.65" y="102.35" width="2.70" height="2.70" fill="#ff0000"/>
<rect x="418.65" y="109.75" width="2.70" height="2.70" fill="#ff0000"/>
<rect x="420.95" y="105.75" width="2.70" height="2.70" fill="#ff0000"/>
<rect x="420.95" y="103.15" width="2.70" height="2.70" fill="#ff0000"/>
<rect x="422.65" y="104.65" width="2.70" height="2.70" fill="#ff0000"/>
<rect x="424.65" y="103.65" width="2.70" height="2.70" fill="#ff0000"/>
<rect x="418.15" y="106.65" width="2.70" height="2.70" fill="#ff0000"/>
<rect x="419.65" y="108.15" width="2.70" height="2.70" fill="#ff0000"/>
<rect x="421.65" y="108.95" width="2.70" height="2.70" fill="#ff0000"/>
<rect x="426.65" y="106.65" width="2.70" height="2.70" fill="#ff0000"/>
<rect x="428.65" y="104.65" width="2.70" height="2.70" fill="#ff0000"/>
<rect x="425.65" y="100.65" width="2.70" height="2.70" fill="#ff0000"/>
<rect x="430.65" y="100.15" width="2.70" height="2.70" fill="#ff0000"/>
<rect x="432.65" y="101.65" width="2.70" height="2.70" fill="#ff0000"/>
<rect x="434.65" y="102.65" width="2.70" height="2.70" fill="#ff0000"/>
<rect x="431.65" y="105.15" width="2.70" height="2.70" fill="#ff0000"/>
<rect x="435.65" y="107.65" width="2.70" height="2.70" fill="#ff0000"/>
<rect x="438.65" y="103.65" width="2.70" height="2.70" fill="#ff0000"/>
<rect x="440.65" y="102.15" width="2.70" height="2.70" fill="#ff0000"/>
<rect x="442.65" y="100.65" width="2.70" height="2.70" fill="#ff0000"/>
<rect x="439.65" y="107.15" width="2.70" height="2.70" fill="#ff0000"/>
<rect x="443.65" y="104.65" width="2.70" height="2.70" fill="#ff0000"/>
<rect x="444.65" y="102.65" width="2.70" height="2.70" fill="#ff0000"/>
<rect x="445.65" y="106.65" width="2.70" height="2.70" fill="#ff0000"/>
<rect x="447.65" y="108.65" width="2.70" height="2.70" fill="#ff0000"/>
<rect x="447.65" y="104.65" width="2.70" height="2.70" fill="#ff0000"/>
<rect x="447.15" y="102.15" width="2.70" height="2.70" fill="#ff0000"/>
<rect x="436.65" y="101.65" width="2.70" height="2.70" fill="#ff0000"/>
<circle cx="438.9" cy="100" r="1.35" fill="#0000ff"/>
<path d="M433.8 100.30 L435.20 102.82 L432.40 102.82 Z" fill="#19c019"/>
<circle cx="435.8" cy="105.4" r="1.35" fill="#0000ff"/>
<circle cx="433.5" cy="108.4" r="1.35" fill="#0000ff"/>
<circle cx="429.8" cy="107.7" r="1.55" fill="#000"/>
<circle cx="431.1" cy="105.7" r="1.15" fill="#ff8a1e"/>
<circle cx="420.7" cy="109.1" r="1.28" fill="none" stroke="#000" stroke-width="0.95"/>
<circle cx="449" cy="99.7" r="1.35" fill="#0000ff"/>
<path d="M449 100.80 L450.40 103.32 L447.60 103.32 Z" fill="#19c019"/>
<circle cx="449" cy="112.1" r="1.55" fill="#000"/>
<rect x="62.15" y="221.15" width="2.70" height="2.70" fill="#ff0000"/>
<rect x="63.65" y="219.65" width="2.70" height="2.70" fill="#ff0000"/>
<rect x="67.65" y="218.65" width="2.70" height="2.70" fill="#ff0000"/>
<rect x="69.65" y="220.15" width="2.70" height="2.70" fill="#ff0000"/>
<rect x="71.65" y="219.65" width="2.70" height="2.70" fill="#ff0000"/>
<rect x="73.65" y="220.65" width="2.70" height="2.70" fill="#ff0000"/>
<rect x="61.65" y="224.65" width="2.70" height="2.70" fill="#ff0000"/>
<rect x="61.45" y="227.65" width="2.70" height="2.70" fill="#ff0000"/>
<rect x="61.45" y="230.65" width="2.70" height="2.70" fill="#ff0000"/>
<rect x="61.65" y="233.65" width="2.70" height="2.70" fill="#ff0000"/>
<rect x="63.65" y="235.15" width="2.70" height="2.70" fill="#ff0000"/>
<rect x="65.65" y="235.45" width="2.70" height="2.70" fill="#ff0000"/>
<rect x="68.65" y="232.65" width="2.70" height="2.70" fill="#ff0000"/>
<rect x="70.65" y="233.65" width="2.70" height="2.70" fill="#ff0000"/>
<rect x="72.65" y="231.65" width="2.70" height="2.70" fill="#ff0000"/>
<rect x="74.65" y="229.65" width="2.70" height="2.70" fill="#ff0000"/>
<rect x="70.15" y="227.65" width="2.70" height="2.70" fill="#ff0000"/>
<rect x="68.65" y="224.65" width="2.70" height="2.70" fill="#ff0000"/>
<rect x="71.65" y="222.65" width="2.70" height="2.70" fill="#ff0000"/>
<rect x="73.65" y="227.15" width="2.70" height="2.70" fill="#ff0000"/>
<rect x="66.65" y="221.15" width="2.70" height="2.70" fill="#ff0000"/>
<rect x="72.65" y="217.15" width="2.70" height="2.70" fill="#ff0000"/>
<rect x="68.65" y="216.65" width="2.70" height="2.70" fill="#ff0000"/>
<rect x="75.15" y="233.15" width="2.70" height="2.70" fill="#ff0000"/>
<rect x="75.65" y="226.65" width="2.70" height="2.70" fill="#ff0000"/>
<circle cx="64" cy="224" r="1.35" fill="#0000ff"/>
<circle cx="64" cy="226" r="1.35" fill="#0000ff"/>
<circle cx="64" cy="228" r="1.35" fill="#0000ff"/>
<circle cx="64" cy="230" r="1.35" fill="#0000ff"/>
<circle cx="64" cy="232" r="1.35" fill="#0000ff"/>
<circle cx="64" cy="234" r="1.35" fill="#0000ff"/>
<circle cx="66" cy="224" r="1.35" fill="#0000ff"/>
<circle cx="66" cy="226" r="1.35" fill="#0000ff"/>
<circle cx="66" cy="228" r="1.35" fill="#0000ff"/>
<circle cx="66" cy="230" r="1.35" fill="#0000ff"/>
<circle cx="66" cy="232" r="1.35" fill="#0000ff"/>
<circle cx="66" cy="234" r="1.35" fill="#0000ff"/>
<circle cx="68" cy="224" r="1.35" fill="#0000ff"/>
<circle cx="68" cy="226" r="1.35" fill="#0000ff"/>
<circle cx="68" cy="228" r="1.35" fill="#0000ff"/>
<circle cx="68" cy="230" r="1.35" fill="#0000ff"/>
<circle cx="68" cy="232" r="1.35" fill="#0000ff"/>
<circle cx="68" cy="234" r="1.35" fill="#0000ff"/>
<circle cx="70" cy="231" r="1.35" fill="#0000ff"/>
<circle cx="70" cy="228.5" r="1.35" fill="#0000ff"/>
<circle cx="72" cy="227" r="1.35" fill="#0000ff"/>
<circle cx="72" cy="232" r="1.35" fill="#0000ff"/>
<circle cx="74" cy="226" r="1.35" fill="#0000ff"/>
<circle cx="73" cy="230" r="1.35" fill="#0000ff"/>
<circle cx="69" cy="235.5" r="1.35" fill="#0000ff"/>
<circle cx="66" cy="236" r="1.35" fill="#0000ff"/>
<circle cx="64" cy="235.5" r="1.35" fill="#0000ff"/>
<circle cx="71.5" cy="224.5" r="1.35" fill="#0000ff"/>
<circle cx="67.8" cy="178" r="1.35" fill="#0000ff"/>
<circle cx="97.6" cy="174.1" r="1.15" fill="#ff8a1e"/>
<path d="M88.1 182.30 L89.60 179.60 L86.60 179.60 Z" fill="#a81ee8"/>
<circle cx="88.4" cy="184.4" r="1.28" fill="none" stroke="#000" stroke-width="0.95"/>
<path d="M109.2 187.50 L110.70 184.80 L107.70 184.80 Z" fill="#a81ee8"/>
<circle cx="131.1" cy="158" r="1.35" fill="#0000ff"/>
<circle cx="179" cy="158" r="1.35" fill="#0000ff"/>
<rect x="151.80" y="161.20" width="3.00" height="3.00" fill="#9a5b15"/>
<circle cx="179" cy="164.8" r="1.35" fill="#0000ff"/>
<circle cx="159" cy="178.2" r="1.35" fill="#0000ff"/>
<rect x="120.65" y="214.25" width="2.70" height="2.70" fill="#ff0000"/>
<circle cx="66.8" cy="186.7" r="1.35" fill="#0000ff"/>
<circle cx="72.5" cy="188.8" r="1.35" fill="#0000ff"/>
<path d="M79 193.50 L80.50 190.80 L77.50 190.80 Z" fill="#a81ee8"/>
<rect x="85.65" y="191.35" width="2.70" height="2.70" fill="#ff0000"/>
<circle cx="72.8" cy="193.9" r="1.35" fill="#0000ff"/>
<circle cx="87" cy="195.6" r="1.28" fill="none" stroke="#000" stroke-width="0.95"/>
<circle cx="101.5" cy="186.3" r="1.28" fill="none" stroke="#000" stroke-width="0.95"/>
<circle cx="100.9" cy="188.6" r="1.28" fill="none" stroke="#000" stroke-width="0.95"/>
<circle cx="99.8" cy="190.8" r="1.28" fill="none" stroke="#000" stroke-width="0.95"/>
<circle cx="99.0" cy="192.5" r="1.28" fill="none" stroke="#000" stroke-width="0.95"/>
<circle cx="98.4" cy="194.3" r="1.28" fill="none" stroke="#000" stroke-width="0.95"/>
<circle cx="96.4" cy="195.4" r="1.28" fill="none" stroke="#000" stroke-width="0.95"/>
<circle cx="92.4" cy="195.4" r="1.15" fill="#ff8a1e"/>
<circle cx="86.6" cy="197.4" r="1.55" fill="#000"/>
<circle cx="65.8" cy="202.7" r="1.35" fill="#0000ff"/>
<rect x="71.15" y="199.75" width="2.70" height="2.70" fill="#ff0000"/>
<circle cx="69.8" cy="202.4" r="1.28" fill="none" stroke="#000" stroke-width="0.95"/>
<circle cx="70.1" cy="203.3" r="1.15" fill="#ff8a1e"/>
<circle cx="72.8" cy="204.1" r="1.28" fill="none" stroke="#000" stroke-width="0.95"/>
<circle cx="71.8" cy="206.1" r="1.15" fill="#ff8a1e"/>
<circle cx="76.5" cy="206.1" r="1.55" fill="#000"/>
<circle cx="78.2" cy="207.5" r="1.55" fill="#000"/>
<circle cx="79.9" cy="208.1" r="1.28" fill="none" stroke="#000" stroke-width="0.95"/>
<circle cx="81.9" cy="203.4" r="1.28" fill="none" stroke="#000" stroke-width="0.95"/>
<circle cx="84.6" cy="202.4" r="1.15" fill="#ff8a1e"/>
<circle cx="84.6" cy="205" r="1.15" fill="#ff8a1e"/>
<circle cx="83.9" cy="206.4" r="1.55" fill="#000"/>
<circle cx="86.6" cy="207.5" r="1.28" fill="none" stroke="#000" stroke-width="0.95"/>
<circle cx="87.6" cy="208.4" r="1.28" fill="none" stroke="#000" stroke-width="0.95"/>
<path d="M89 203.90 L90.50 201.20 L87.50 201.20 Z" fill="#a81ee8"/>
<circle cx="90" cy="201.1" r="1.28" fill="none" stroke="#000" stroke-width="0.95"/>
<rect x="63.35" y="206.75" width="2.70" height="2.70" fill="#ff0000"/>
<circle cx="65.8" cy="211.2" r="1.55" fill="#000"/>
<circle cx="82.6" cy="211.2" r="1.35" fill="#0000ff"/>
<circle cx="73.8" cy="211.8" r="1.28" fill="none" stroke="#000" stroke-width="0.95"/>
<circle cx="96.7" cy="195.7" r="1.28" fill="none" stroke="#000" stroke-width="0.95"/>
<circle cx="94" cy="198" r="1.35" fill="#0000ff"/>
<circle cx="91" cy="199" r="1.15" fill="#ff8a1e"/>
<rect x="104.85" y="196.05" width="2.70" height="2.70" fill="#ff0000"/>
<circle cx="107.5" cy="198.4" r="1.35" fill="#0000ff"/>
<circle cx="113.2" cy="200.4" r="1.28" fill="none" stroke="#000" stroke-width="0.95"/>
<circle cx="93.4" cy="202.4" r="1.28" fill="none" stroke="#000" stroke-width="0.95"/>
<circle cx="96.7" cy="200.7" r="1.28" fill="none" stroke="#000" stroke-width="0.95"/>
<circle cx="99.4" cy="202.4" r="1.28" fill="none" stroke="#000" stroke-width="0.95"/>
<circle cx="102.8" cy="204.1" r="1.28" fill="none" stroke="#000" stroke-width="0.95"/>
<path d="M102.8 208.30 L104.30 205.60 L101.30 205.60 Z" fill="#a81ee8"/>
<path d="M89.3 203.90 L90.80 201.20 L87.80 201.20 Z" fill="#a81ee8"/>
<circle cx="91.4" cy="207.5" r="1.28" fill="none" stroke="#000" stroke-width="0.95"/>
<circle cx="97.1" cy="205.4" r="1.28" fill="none" stroke="#000" stroke-width="0.95"/>
<circle cx="98.1" cy="207.8" r="1.28" fill="none" stroke="#000" stroke-width="0.95"/>
<rect x="95.20" y="209.10" width="3.00" height="3.00" fill="#9a5b15"/>
<rect x="102.75" y="208.65" width="2.70" height="2.70" fill="#ff0000"/>
<circle cx="106.8" cy="210.8" r="1.28" fill="none" stroke="#000" stroke-width="0.95"/>
<circle cx="99" cy="212.7" r="1.35" fill="#0000ff"/>
<circle cx="93" cy="214.4" r="1.28" fill="none" stroke="#000" stroke-width="0.95"/>
<circle cx="98.4" cy="216.4" r="1.28" fill="none" stroke="#000" stroke-width="0.95"/>
<circle cx="101.8" cy="217.1" r="1.35" fill="#0000ff"/>
<circle cx="103.1" cy="217.7" r="1.35" fill="#0000ff"/>
<circle cx="105.5" cy="217.1" r="1.55" fill="#000"/>
<circle cx="107.8" cy="217.7" r="1.28" fill="none" stroke="#000" stroke-width="0.95"/>
<circle cx="89.3" cy="216.4" r="1.55" fill="#000"/>
<circle cx="91.7" cy="216.7" r="1.28" fill="none" stroke="#000" stroke-width="0.95"/>
<circle cx="92.7" cy="220.8" r="1.28" fill="none" stroke="#000" stroke-width="0.95"/>
<circle cx="91.4" cy="222.4" r="1.55" fill="#000"/>
<circle cx="93" cy="223.8" r="1.35" fill="#0000ff"/>
<rect x="88.35" y="223.25" width="2.70" height="2.70" fill="#ff0000"/>
<circle cx="93" cy="225.6" r="1.28" fill="none" stroke="#000" stroke-width="0.95"/>
<circle cx="100.1" cy="225.1" r="1.35" fill="#0000ff"/>
<path d="M97.4 225.40 L98.80 227.92 L96.00 227.92 Z" fill="#19c019"/>
<circle cx="108" cy="226.3" r="1.28" fill="none" stroke="#000" stroke-width="0.95"/>
<circle cx="114.2" cy="226.5" r="1.28" fill="none" stroke="#000" stroke-width="0.95"/>
<circle cx="90.3" cy="229.4" r="1.35" fill="#0000ff"/>
<circle cx="93.4" cy="232.4" r="1.28" fill="none" stroke="#000" stroke-width="0.95"/>
<circle cx="89.3" cy="234.1" r="1.15" fill="#ff8a1e"/>
<circle cx="105.2" cy="229.4" r="1.55" fill="#000"/>
<circle cx="105.5" cy="230.7" r="1.55" fill="#000"/>
<rect x="65.45" y="211.35" width="2.70" height="2.70" fill="#ff0000"/>
<circle cx="64.7" cy="214.4" r="1.35" fill="#0000ff"/>
<circle cx="67.8" cy="214.7" r="1.35" fill="#0000ff"/>
<path d="M70.1 211.30 L71.50 213.82 L68.70 213.82 Z" fill="#19c019"/>
<circle cx="72.5" cy="212" r="1.28" fill="none" stroke="#000" stroke-width="0.95"/>
<circle cx="74.8" cy="212.4" r="1.28" fill="none" stroke="#000" stroke-width="0.95"/>
<rect x="76.55" y="211.65" width="2.70" height="2.70" fill="#ff0000"/>
<circle cx="80.6" cy="212.4" r="1.15" fill="#ff8a1e"/>
<circle cx="82.2" cy="211.3" r="1.35" fill="#0000ff"/>
<circle cx="84.6" cy="213.7" r="1.35" fill="#0000ff"/>
<path d="M80.9 213.60 L82.30 216.12 L79.50 216.12 Z" fill="#19c019"/>
<circle cx="72.2" cy="215.4" r="1.35" fill="#0000ff"/>
<circle cx="73.2" cy="216.7" r="1.15" fill="#ff8a1e"/>
<rect x="66.05" y="215.75" width="2.70" height="2.70" fill="#ff0000"/>
<circle cx="67.8" cy="219.1" r="1.35" fill="#0000ff"/>
<rect x="70.45" y="217.35" width="2.70" height="2.70" fill="#ff0000"/>
<rect x="70.85" y="219.45" width="2.70" height="2.70" fill="#ff0000"/>
<circle cx="76.9" cy="217.7" r="1.35" fill="#0000ff"/>
<circle cx="76.2" cy="216.4" r="1.28" fill="none" stroke="#000" stroke-width="0.95"/>
<circle cx="79.9" cy="216.7" r="1.35" fill="#0000ff"/>
<rect x="75.15" y="218.75" width="2.70" height="2.70" fill="#ff0000"/>
<circle cx="83.3" cy="219.1" r="1.55" fill="#000"/>
<circle cx="85.3" cy="218.4" r="1.35" fill="#0000ff"/>
<circle cx="87" cy="218.7" r="1.35" fill="#0000ff"/>
<circle cx="89" cy="216.7" r="1.55" fill="#000"/>
<circle cx="78.2" cy="221.8" r="1.55" fill="#000"/>
<circle cx="80.9" cy="222.1" r="1.35" fill="#0000ff"/>
<circle cx="81.9" cy="220.8" r="1.28" fill="none" stroke="#000" stroke-width="0.95"/>
<rect x="64.05" y="220.75" width="2.70" height="2.70" fill="#ff0000"/>
<circle cx="69.1" cy="222.4" r="1.35" fill="#0000ff"/>
<rect x="66.45" y="223.15" width="2.70" height="2.70" fill="#ff0000"/>
<circle cx="64.4" cy="224.5" r="1.35" fill="#0000ff"/>
<circle cx="64.1" cy="226.5" r="1.35" fill="#0000ff"/>
<circle cx="70.8" cy="224.5" r="1.35" fill="#0000ff"/>
<rect x="71.45" y="222.15" width="2.70" height="2.70" fill="#ff0000"/>
<circle cx="74.2" cy="225.5" r="1.35" fill="#0000ff"/>
<rect x="65.45" y="225.15" width="2.70" height="2.70" fill="#ff0000"/>
<rect x="69.15" y="225.45" width="2.70" height="2.70" fill="#ff0000"/>
<circle cx="76.5" cy="225.1" r="1.35" fill="#0000ff"/>
<circle cx="78.9" cy="226.8" r="1.55" fill="#000"/>
<path d="M79.6 227.30 L81.10 224.60 L78.10 224.60 Z" fill="#a81ee8"/>
<circle cx="89" cy="222.4" r="1.55" fill="#000"/>
<rect x="88.25" y="222.75" width="2.70" height="2.70" fill="#ff0000"/>
<circle cx="89.3" cy="211.7" r="1.28" fill="none" stroke="#000" stroke-width="0.95"/>
<circle cx="75.5" cy="230" r="1.35" fill="#0000ff"/>
<circle cx="74.5" cy="232.8" r="1.35" fill="#0000ff"/>
<path d="M78.9 228.00 L80.30 230.52 L77.50 230.52 Z" fill="#19c019"/>
<path d="M81.6 229.00 L83.00 231.52 L80.20 231.52 Z" fill="#19c019"/>
<circle cx="78.5" cy="227" r="1.55" fill="#000"/>
<path d="M79.2 234.30 L80.70 231.60 L77.70 231.60 Z" fill="#a81ee8"/>
<circle cx="81.6" cy="232.1" r="1.35" fill="#0000ff"/>
<circle cx="81.6" cy="233.4" r="1.55" fill="#000"/>
<circle cx="86.3" cy="233.8" r="1.28" fill="none" stroke="#000" stroke-width="0.95"/>
<circle cx="89" cy="234.4" r="1.15" fill="#ff8a1e"/>
<rect x="74.85" y="232.75" width="2.70" height="2.70" fill="#ff0000"/>
<rect x="61.65" y="234.65" width="2.70" height="2.70" fill="#ff0000"/>
<rect x="64.65" y="235.15" width="2.70" height="2.70" fill="#ff0000"/>
<rect x="65.65" y="221.15" width="2.70" height="2.70" fill="#ff0000"/>
<rect x="68.65" y="222.65" width="2.70" height="2.70" fill="#ff0000"/>
<rect x="71.65" y="224.65" width="2.70" height="2.70" fill="#ff0000"/>
<rect x="72.65" y="227.65" width="2.70" height="2.70" fill="#ff0000"/>
<rect x="74.65" y="229.65" width="2.70" height="2.70" fill="#ff0000"/>
<rect x="70.65" y="232.65" width="2.70" height="2.70" fill="#ff0000"/>
<rect x="67.65" y="229.65" width="2.70" height="2.70" fill="#ff0000"/>
<rect x="61.15" y="226.65" width="2.70" height="2.70" fill="#ff0000"/>
<rect x="62.65" y="232.65" width="2.70" height="2.70" fill="#ff0000"/>
<rect x="76.65" y="230.65" width="2.70" height="2.70" fill="#ff0000"/>
<rect x="74.65" y="225.65" width="2.70" height="2.70" fill="#ff0000"/>
<rect x="68.65" y="234.15" width="2.70" height="2.70" fill="#ff0000"/>
<rect x="61.15" y="230.65" width="2.70" height="2.70" fill="#ff0000"/>
<circle cx="63" cy="225" r="1.35" fill="#0000ff"/>
<circle cx="65" cy="225" r="1.35" fill="#0000ff"/>
<circle cx="67" cy="226.5" r="1.35" fill="#0000ff"/>
<circle cx="69" cy="227.5" r="1.35" fill="#0000ff"/>
<circle cx="63" cy="227.5" r="1.35" fill="#0000ff"/>
<circle cx="65" cy="228.5" r="1.35" fill="#0000ff"/>
<circle cx="67" cy="229" r="1.35" fill="#0000ff"/>
<circle cx="69" cy="229.5" r="1.35" fill="#0000ff"/>
<circle cx="71" cy="230" r="1.35" fill="#0000ff"/>
<circle cx="63" cy="230.5" r="1.35" fill="#0000ff"/>
<circle cx="65" cy="231" r="1.35" fill="#0000ff"/>
<circle cx="67" cy="232" r="1.35" fill="#0000ff"/>
<circle cx="69" cy="233" r="1.35" fill="#0000ff"/>
<circle cx="71" cy="232.5" r="1.35" fill="#0000ff"/>
<circle cx="63" cy="233.5" r="1.35" fill="#0000ff"/>
<circle cx="65" cy="234" r="1.35" fill="#0000ff"/>
<circle cx="67" cy="235" r="1.35" fill="#0000ff"/>
<circle cx="68.5" cy="236" r="1.35" fill="#0000ff"/>
<circle cx="72.5" cy="236" r="1.35" fill="#0000ff"/>
<circle cx="64" cy="236" r="1.35" fill="#0000ff"/>
<circle cx="73" cy="231" r="1.35" fill="#0000ff"/>
<circle cx="70.5" cy="227.5" r="1.35" fill="#0000ff"/>
<circle cx="66" cy="223.5" r="1.35" fill="#0000ff"/>
<circle cx="70" cy="222.5" r="1.35" fill="#0000ff"/>
<circle cx="74" cy="222.5" r="1.35" fill="#0000ff"/>
<circle cx="72" cy="228" r="1.35" fill="#0000ff"/>
<circle cx="75" cy="236" r="1.35" fill="#0000ff"/>
<circle cx="62.5" cy="225.5" r="1.35" fill="#0000ff"/>
<circle cx="66" cy="220.5" r="1.35" fill="#0000ff"/>
<circle cx="69" cy="220" r="1.35" fill="#0000ff"/>
<circle cx="74" cy="219" r="1.35" fill="#0000ff"/>
<circle cx="71" cy="237" r="1.35" fill="#0000ff"/>
<path d="M333.1 164.30 L334.60 161.60 L331.60 161.60 Z" fill="#a81ee8"/>
<path d="M333.7 172.00 L335.20 169.30 L332.20 169.30 Z" fill="#a81ee8"/>
<path d="M328.8 178.10 L330.30 175.40 L327.30 175.40 Z" fill="#a81ee8"/>
<path d="M377.2 154.30 L378.60 156.82 L375.80 156.82 Z" fill="#19c019"/>
<path d="M374.5 156.90 L375.90 159.42 L373.10 159.42 Z" fill="#19c019"/>
<path d="M369.8 161.40 L371.20 163.92 L368.40 163.92 Z" fill="#19c019"/>
<path d="M367.4 164.50 L368.80 167.02 L366.00 167.02 Z" fill="#19c019"/>
<path d="M369.1 175.20 L370.50 177.72 L367.70 177.72 Z" fill="#19c019"/>
<path d="M383.2 176.20 L384.60 178.72 L381.80 178.72 Z" fill="#19c019"/>
<circle cx="381.9" cy="183.4" r="1.15" fill="#ff8a1e"/>
<path d="M331.8 191.60 L333.30 188.90 L330.30 188.90 Z" fill="#a81ee8"/>
<circle cx="385" cy="192.4" r="1.35" fill="#0000ff"/>
<circle cx="384" cy="195.9" r="1.35" fill="#0000ff"/>
<circle cx="373.4" cy="197.5" r="1.35" fill="#0000ff"/>
<path d="M331 200.10 L332.50 197.40 L329.50 197.40 Z" fill="#a81ee8"/>
<path d="M335.1 201.50 L336.60 198.80 L333.60 198.80 Z" fill="#a81ee8"/>
<path d="M374.1 199.90 L375.50 202.42 L372.70 202.42 Z" fill="#19c019"/>
<circle cx="385.2" cy="203" r="1.35" fill="#0000ff"/>
<rect x="386.65" y="201.35" width="2.70" height="2.70" fill="#ff0000"/>
<rect x="339.75" y="203.95" width="2.70" height="2.70" fill="#ff0000"/>
<rect x="346.95" y="204.65" width="2.70" height="2.70" fill="#ff0000"/>
<path d="M352 211.30 L353.40 213.82 L350.60 213.82 Z" fill="#19c019"/>
<circle cx="356.4" cy="214.9" r="1.35" fill="#0000ff"/>
<circle cx="354.5" cy="217.3" r="1.35" fill="#0000ff"/>
<circle cx="359.4" cy="220.1" r="1.35" fill="#0000ff"/>
<circle cx="374.7" cy="215.1" r="1.35" fill="#0000ff"/>
<circle cx="383.6" cy="215.1" r="1.35" fill="#0000ff"/>
<rect x="366.15" y="218.95" width="2.70" height="2.70" fill="#ff0000"/>
<path d="M357.9 223.20 L359.30 225.72 L356.50 225.72 Z" fill="#19c019"/>
<circle cx="346.4" cy="224.3" r="1.35" fill="#0000ff"/>
<circle cx="333.1" cy="226.5" r="1.35" fill="#0000ff"/>
<circle cx="335.6" cy="227" r="1.35" fill="#0000ff"/>
<circle cx="332.6" cy="228.7" r="1.35" fill="#0000ff"/>
<circle cx="337.8" cy="229.5" r="1.35" fill="#0000ff"/>
<circle cx="342.6" cy="227.6" r="1.35" fill="#0000ff"/>
<path d="M348.2 228.10 L349.60 230.62 L346.80 230.62 Z" fill="#19c019"/>
<path d="M342 230.00 L343.40 232.52 L340.60 232.52 Z" fill="#19c019"/>
<circle cx="339.8" cy="231.7" r="1.35" fill="#0000ff"/>
<path d="M327.4 235.90 L328.90 233.20 L325.90 233.20 Z" fill="#a81ee8"/>
<path d="M331.1 235.00 L332.60 232.30 L329.60 232.30 Z" fill="#a81ee8"/>
<circle cx="330.4" cy="235.9" r="1.35" fill="#0000ff"/>
<path d="M330.8 235.60 L332.20 238.12 L329.40 238.12 Z" fill="#19c019"/>
<path d="M337.5 232.10 L338.90 234.62 L336.10 234.62 Z" fill="#19c019"/>
<circle cx="337.1" cy="234.7" r="1.35" fill="#0000ff"/>
<circle cx="340.8" cy="234.7" r="1.15" fill="#ff8a1e"/>
<circle cx="336" cy="235" r="1.15" fill="#ff8a1e"/>
<path d="M349.7 237.40 L351.20 234.70 L348.20 234.70 Z" fill="#a81ee8"/>
<circle cx="355.7" cy="235.4" r="1.35" fill="#0000ff"/>
<path d="M360.1 233.50 L361.60 230.80 L358.60 230.80 Z" fill="#a81ee8"/>
<circle cx="360.9" cy="235.4" r="1.15" fill="#ff8a1e"/>
<circle cx="370.5" cy="232.5" r="1.35" fill="#0000ff"/>
<circle cx="374.2" cy="231.7" r="1.15" fill="#ff8a1e"/>
<circle cx="380.6" cy="225.8" r="1.15" fill="#ff8a1e"/>
<path d="M380.2 226.30 L381.60 228.82 L378.80 228.82 Z" fill="#19c019"/>
<circle cx="379.4" cy="234.7" r="1.15" fill="#ff8a1e"/>
<circle cx="389.5" cy="229.5" r="1.15" fill="#ff8a1e"/>
<circle cx="387.1" cy="236.1" r="1.28" fill="none" stroke="#000" stroke-width="0.95"/>
<path d="M391.7 153.00 L393.10 155.52 L390.30 155.52 Z" fill="#19c019"/>
<circle cx="395.1" cy="159.1" r="1.15" fill="#ff8a1e"/>
<circle cx="406.5" cy="164.1" r="1.35" fill="#0000ff"/>
<circle cx="408.6" cy="164.8" r="1.28" fill="none" stroke="#000" stroke-width="0.95"/>
<circle cx="430.8" cy="154.7" r="1.35" fill="#0000ff"/>
<circle cx="433.5" cy="156" r="1.15" fill="#ff8a1e"/>
<rect x="421.75" y="157.75" width="2.70" height="2.70" fill="#ff0000"/>
<rect x="427.75" y="158.05" width="2.70" height="2.70" fill="#ff0000"/>
<circle cx="427.4" cy="161.1" r="1.35" fill="#0000ff"/>
<rect x="435.55" y="156.75" width="2.70" height="2.70" fill="#ff0000"/>
<rect x="438.55" y="157.75" width="2.70" height="2.70" fill="#ff0000"/>
<rect x="439.55" y="154.35" width="2.70" height="2.70" fill="#ff0000"/>
<circle cx="438.9" cy="160.4" r="1.35" fill="#0000ff"/>
<circle cx="439.2" cy="162.8" r="1.35" fill="#0000ff"/>
<rect x="435.85" y="160.75" width="2.70" height="2.70" fill="#ff0000"/>
<rect x="442.55" y="156.05" width="2.70" height="2.70" fill="#ff0000"/>
<rect x="443.95" y="157.05" width="2.70" height="2.70" fill="#ff0000"/>
<rect x="443.25" y="158.35" width="2.70" height="2.70" fill="#ff0000"/>
<circle cx="447.6" cy="156" r="1.35" fill="#0000ff"/>
<rect x="447.25" y="152.85" width="2.70" height="2.70" fill="#ff0000"/>
<rect x="446.65" y="159.75" width="2.70" height="2.70" fill="#ff0000"/>
<circle cx="449.6" cy="157.9" r="1.55" fill="#000"/>
<circle cx="449.4" cy="153.2" r="1.55" fill="#000"/>
<rect x="443.05" y="156.25" width="2.70" height="2.70" fill="#ff0000"/>
<rect x="439.75" y="154.75" width="2.70" height="2.70" fill="#ff0000"/>
<circle cx="434.2" cy="163.4" r="1.28" fill="none" stroke="#000" stroke-width="0.95"/>
<circle cx="431.5" cy="163.8" r="1.15" fill="#ff8a1e"/>
<circle cx="428.8" cy="165.6" r="1.35" fill="#0000ff"/>
<rect x="429.45" y="164.25" width="2.70" height="2.70" fill="#ff0000"/>
<circle cx="442.5" cy="162.0" r="1.28" fill="none" stroke="#000" stroke-width="0.95"/>
<circle cx="442.2" cy="164.8" r="1.28" fill="none" stroke="#000" stroke-width="0.95"/>
<circle cx="423.4" cy="167.7" r="1.28" fill="none" stroke="#000" stroke-width="0.95"/>
<circle cx="425.4" cy="167.7" r="1.28" fill="none" stroke="#000" stroke-width="0.95"/>
<rect x="445.95" y="164.75" width="2.70" height="2.70" fill="#ff0000"/>
<circle cx="418.3" cy="168.7" r="1.35" fill="#0000ff"/>
<circle cx="431.5" cy="168.7" r="1.28" fill="none" stroke="#000" stroke-width="0.95"/>
<circle cx="434.2" cy="169.4" r="1.28" fill="none" stroke="#000" stroke-width="0.95"/>
<circle cx="434.5" cy="171.1" r="1.28" fill="none" stroke="#000" stroke-width="0.95"/>
<circle cx="435.8" cy="167.7" r="1.28" fill="none" stroke="#000" stroke-width="0.95"/>
<circle cx="438.5" cy="167.7" r="1.28" fill="none" stroke="#000" stroke-width="0.95"/>
<circle cx="442.2" cy="165.6" r="1.28" fill="none" stroke="#000" stroke-width="0.95"/>
<circle cx="444.3" cy="168.4" r="1.15" fill="#ff8a1e"/>
<rect x="441.85" y="169.75" width="2.70" height="2.70" fill="#ff0000"/>
<circle cx="445.3" cy="172.1" r="1.28" fill="none" stroke="#000" stroke-width="0.95"/>
<circle cx="419.0" cy="173.4" r="1.28" fill="none" stroke="#000" stroke-width="0.95"/>
<circle cx="430.1" cy="174.8" r="1.35" fill="#0000ff"/>
<circle cx="441.2" cy="175.4" r="1.15" fill="#ff8a1e"/>
<circle cx="449.3" cy="175.1" r="1.35" fill="#0000ff"/>
<rect x="446.25" y="177.15" width="2.70" height="2.70" fill="#ff0000"/>
<circle cx="423.1" cy="180.8" r="1.15" fill="#ff8a1e"/>
<circle cx="433.8" cy="179.8" r="1.15" fill="#ff8a1e"/>
<circle cx="430.1" cy="182.3" r="1.35" fill="#0000ff"/>
<rect x="425.75" y="181.45" width="2.70" height="2.70" fill="#ff0000"/>
<circle cx="416.3" cy="172.4" r="1.28" fill="none" stroke="#000" stroke-width="0.95"/>
<circle cx="415.6" cy="177.4" r="1.15" fill="#ff8a1e"/>
<path d="M401.3 180.70 L402.70 183.22 L399.90 183.22 Z" fill="#19c019"/>
<rect x="401.95" y="180.75" width="2.70" height="2.70" fill="#ff0000"/>
<circle cx="408.1" cy="185.4" r="1.35" fill="#0000ff"/>
<rect x="415.25" y="183.15" width="2.70" height="2.70" fill="#ff0000"/>
<circle cx="418.5" cy="185.4" r="1.35" fill="#0000ff"/>
<circle cx="424.7" cy="186.5" r="1.15" fill="#ff8a1e"/>
<rect x="425.65" y="182.45" width="2.70" height="2.70" fill="#ff0000"/>
<rect x="427.75" y="183.75" width="2.70" height="2.70" fill="#ff0000"/>
<circle cx="433.7" cy="180.3" r="1.15" fill="#ff8a1e"/>
<rect x="434.75" y="184.35" width="2.70" height="2.70" fill="#ff0000"/>
<circle cx="445.6" cy="187.4" r="1.28" fill="none" stroke="#000" stroke-width="0.95"/>
<circle cx="424" cy="190.8" r="1.28" fill="none" stroke="#000" stroke-width="0.95"/>
<circle cx="437.5" cy="190.5" r="1.28" fill="none" stroke="#000" stroke-width="0.95"/>
<circle cx="437.2" cy="194.8" r="1.28" fill="none" stroke="#000" stroke-width="0.95"/>
<circle cx="402.5" cy="195.5" r="1.28" fill="none" stroke="#000" stroke-width="0.95"/>
<circle cx="408.1" cy="196.8" r="1.28" fill="none" stroke="#000" stroke-width="0.95"/>
<rect x="417.25" y="193.75" width="2.70" height="2.70" fill="#ff0000"/>
<rect x="424.65" y="194.55" width="2.70" height="2.70" fill="#ff0000"/>
<circle cx="395.5" cy="199.9" r="1.28" fill="none" stroke="#000" stroke-width="0.95"/>
<circle cx="403.2" cy="200.9" r="1.35" fill="#0000ff"/>
<circle cx="401.8" cy="199.2" r="1.15" fill="#ff8a1e"/>
<circle cx="438.2" cy="199.1" r="1.15" fill="#ff8a1e"/>
<circle cx="398.2" cy="209.8" r="1.35" fill="#0000ff"/>
<circle cx="418.5" cy="210.1" r="1.28" fill="none" stroke="#000" stroke-width="0.95"/>
<circle cx="400.1" cy="214.1" r="1.35" fill="#0000ff"/>
<circle cx="408.6" cy="213" r="1.35" fill="#0000ff"/>
<circle cx="422" cy="212.3" r="1.15" fill="#ff8a1e"/>
<circle cx="428.7" cy="212.3" r="1.28" fill="none" stroke="#000" stroke-width="0.95"/>
<circle cx="433" cy="211.7" r="1.15" fill="#ff8a1e"/>
<circle cx="427" cy="217" r="1.15" fill="#ff8a1e"/>
<circle cx="423" cy="220.4" r="1.35" fill="#0000ff"/>
<circle cx="425.6" cy="225.9" r="1.28" fill="none" stroke="#000" stroke-width="0.95"/>
<circle cx="428.3" cy="225.2" r="1.35" fill="#0000ff"/>
<circle cx="430.1" cy="227.5" r="1.15" fill="#ff8a1e"/>
<circle cx="435.1" cy="229.1" r="1.15" fill="#ff8a1e"/>
<circle cx="390.1" cy="229.6" r="1.15" fill="#ff8a1e"/>
<circle cx="397.8" cy="227.8" r="1.15" fill="#ff8a1e"/>
<circle cx="400.1" cy="234" r="1.15" fill="#ff8a1e"/>
<circle cx="403.6" cy="232.9" r="1.15" fill="#ff8a1e"/>
<circle cx="412.9" cy="234" r="1.15" fill="#ff8a1e"/>
<circle cx="416" cy="231.2" r="1.15" fill="#ff8a1e"/>
<path d="M420.3 231.20 L421.70 233.72 L418.90 233.72 Z" fill="#19c019"/>
<circle cx="424" cy="232.9" r="1.15" fill="#ff8a1e"/>
<path d="M427.4 234.50 L428.80 237.02 L426.00 237.02 Z" fill="#19c019"/>
<circle cx="431.4" cy="236.7" r="1.15" fill="#ff8a1e"/>
<circle cx="444" cy="236.7" r="1.15" fill="#ff8a1e"/>
<circle cx="445.8" cy="236.7" r="1.15" fill="#ff8a1e"/>
<rect x="0.5" y="0.5" width="518.6" height="267.7" fill="none" stroke="#000" stroke-width="1.2"/>
<rect x="518.5" y="0" width="1.5" height="269" fill="#000"/>
<rect x="0" y="267.8" width="520" height="1.2" fill="#000"/>
</svg>
</body></html>
